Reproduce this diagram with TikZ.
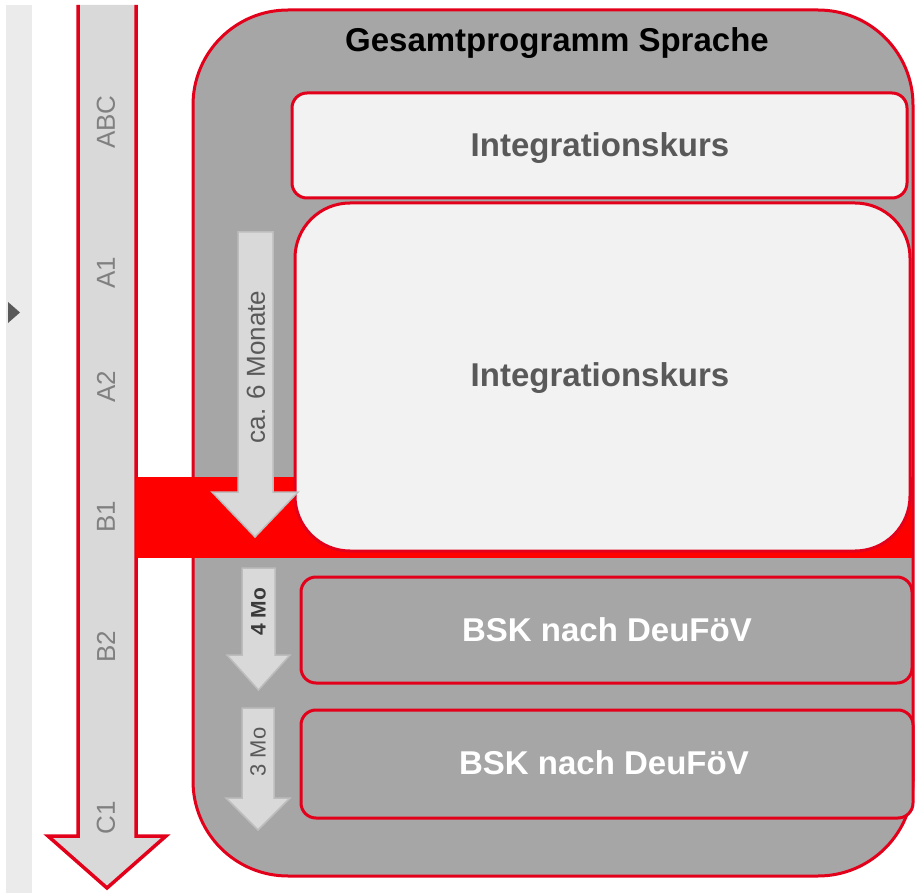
\documentclass[tikz,border=0pt]{standalone}
\usepackage{fontspec}
\setmainfont{Liberation Sans}
\definecolor{bred}{HTML}{E2001A}
\definecolor{bandred}{HTML}{FF0000}
\definecolor{contgray}{HTML}{A6A6A6}
\definecolor{lightbox}{HTML}{F2F2F2}
\definecolor{arrowfill}{HTML}{D9D9D9}
\definecolor{arrowedge}{HTML}{BDBDBD}
\definecolor{stripgray}{HTML}{EBEBEB}
\definecolor{trigray}{HTML}{595959}
\definecolor{labgray}{HTML}{808080}
\definecolor{txtgray}{HTML}{595959}
\definecolor{darktxt}{HTML}{3A3A3A}
\begin{document}
\begin{tikzpicture}[x=1pt,y=-1pt,
  container/.style={draw=bred, line width=3pt, fill=contgray, rounded corners=95pt},
  lightbox/.style={draw=bred, line width=3pt, fill=lightbox, rounded corners=#1, inner sep=0pt},
  darkbox/.style={draw=bred, line width=3pt, fill=contgray, rounded corners=15pt, inner sep=0pt},
  boxtext/.style={font=\fontsize{33}{38}\selectfont\bfseries, text=#1},
  titletext/.style={font=\fontsize{33}{38}\selectfont\bfseries, text=black},
  levellabel/.style={rotate=90, font=\fontsize{26}{30}\selectfont, text=labgray},
  durlabel/.style={rotate=90, font=\fontsize{26}{30}\selectfont, text=txtgray},
  smallarrow/.style={fill=arrowfill, draw=arrowedge, line width=1.5pt, line join=miter},
]
\useasboundingbox (0,0) rectangle (916,893);

% left strip with small triangle
\fill[stripgray] (6,5) rectangle (32,893);
\fill[trigray] (8,302) -- (20,312.5) -- (8,323) -- cycle;

% outer container
\draw[container] (193,10) rectangle (913,876);

% big level arrow
\fill[arrowfill] (78,5) -- (78,836) -- (48,836) -- (107,888) -- (166,836) -- (136,836) -- (136,5) -- cycle;
\draw[bred, line width=3.5pt, line join=miter] (78,5) -- (78,836) -- (48,836) -- (107,888) -- (166,836) -- (136,836) -- (136,5);

% red band (B1 level)
\fill[bandred] (136,477) rectangle (912,558);

% level labels
\node[levellabel] (abc) at (106,122) {ABC};
\node[levellabel] (a1) at (106,273) {A1};
\node[levellabel] (a2) at (106,387) {A2};
\node[levellabel] (b1) at (106,517) {B1};
\node[levellabel] (b2) at (106,647) {B2};
\node[levellabel] (c1) at (106,818) {C1};

% title
\node[titletext] (title) at (557,43) {Gesamtprogramm Sprache};

% course boxes
\node[lightbox=15pt, minimum width=615pt, minimum height=105pt] (ik1) at (599.5,145.5) {};
\node[boxtext=txtgray] (ik1t) at (600,148) {Integrationskurs};
\node[lightbox=55pt, minimum width=615pt, minimum height=348pt] (ik2) at (602.5,377) {};
\node[boxtext=txtgray] (ik2t) at (600,378) {Integrationskurs};
\node[darkbox, minimum width=611pt, minimum height=106pt] (bsk1) at (606.5,630) {};
\node[boxtext=white] (bsk1t) at (607,630) {BSK nach DeuFöV};
\node[darkbox, minimum width=612pt, minimum height=108pt] (bsk2) at (607,764) {};
\node[boxtext=white] (bsk2t) at (604,763) {BSK nach DeuFöV};

% duration arrows
\draw[smallarrow] (238,232) -- (238,492) -- (212,492) -- (255,537) -- (298,492) -- (273,492) -- (273,232) -- cycle;
\node[durlabel] (m6) at (256,367) {ca. 6 Monate};

\draw[smallarrow] (242,568) -- (242,655) -- (227,655) -- (258.5,690) -- (290,655) -- (275,655) -- (275,568) -- cycle;
\node[rotate=90, font=\fontsize{21}{26}\selectfont\bfseries, text=darktxt] (m4) at (258.5,612) {4 Mo};

\draw[smallarrow] (242,708) -- (242,798) -- (226,798) -- (258,830) -- (290,798) -- (274,798) -- (274,708) -- cycle;
\node[rotate=90, font=\fontsize{22}{26}\selectfont, text=txtgray] (m3) at (258,752) {3 Mo};
\end{tikzpicture}
\end{document}
